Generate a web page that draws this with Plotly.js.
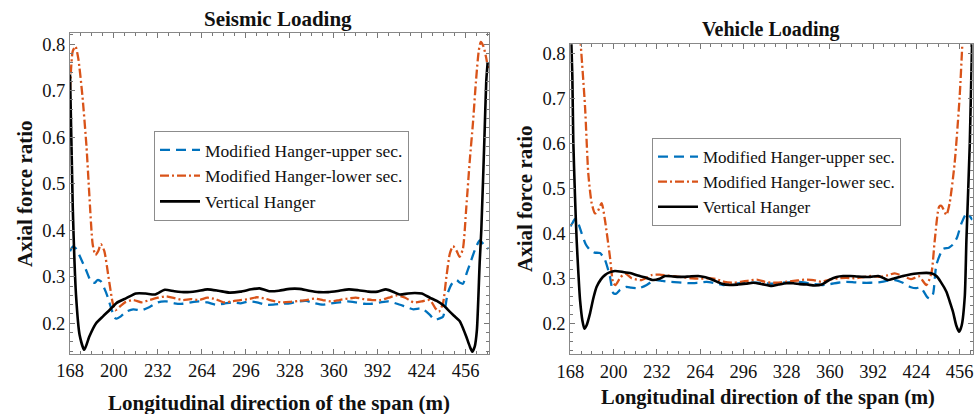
<!DOCTYPE html>
<html>
<head>
<meta charset="utf-8">
<script src="https://cdn.plot.ly/plotly-3.0.1.min.js"></script>
<style>
  html, body { margin: 0; padding: 0; background: #fff; }
  #chart { width: 974px; height: 414px; }
</style>
</head>
<body>
<div id="chart"></div>
<script>
// ---- Seismic loading: axial force ratio along the span ----
const seismicUpperX = [168, 170, 172.5, 175, 179.6, 183.3, 186, 188, 190.5, 193, 195.4, 198, 200.5, 202, 205, 209, 214, 220, 226, 232, 238, 244, 250, 256, 262, 268, 274, 280, 286, 292, 298, 304, 310, 316, 322, 328, 334, 340, 346, 352, 358, 364, 370, 376, 382, 388, 394, 400, 406, 412, 418, 424, 430, 433.5, 436.5, 439.5, 443, 446, 449.2, 452, 454, 457, 460, 463, 466.2, 469, 472.5];
const seismicUpperY = [0.355, 0.365, 0.36, 0.345, 0.315, 0.29, 0.287, 0.293, 0.29, 0.275, 0.257, 0.232, 0.212, 0.21, 0.215, 0.225, 0.23, 0.228, 0.235, 0.245, 0.247, 0.243, 0.242, 0.245, 0.247, 0.245, 0.24, 0.242, 0.245, 0.243, 0.247, 0.245, 0.24, 0.24, 0.242, 0.243, 0.247, 0.248, 0.243, 0.24, 0.243, 0.245, 0.247, 0.245, 0.242, 0.242, 0.245, 0.247, 0.242, 0.236, 0.23, 0.232, 0.218, 0.207, 0.21, 0.214, 0.265, 0.285, 0.293, 0.287, 0.285, 0.31, 0.335, 0.36, 0.378, 0.37, 0.36];

const seismicLowerX = [168, 170, 172, 174, 177, 180, 182, 184.5, 186.5, 188.5, 190.5, 193, 196, 199, 201, 204, 208, 214, 220, 226, 232, 238, 244, 250, 256, 262, 268, 274, 280, 286, 292, 298, 304, 310, 316, 322, 328, 334, 340, 346, 352, 358, 364, 370, 376, 382, 388, 394, 400, 406, 412, 418, 424, 430, 434, 436.5, 439.5, 442, 444.5, 446.8, 449.5, 451.6, 454, 456.5, 459, 461.3, 463.5, 465.5, 467, 469, 471, 472.5];
const seismicLowerY = [0.70, 0.785, 0.795, 0.77, 0.69, 0.58, 0.48, 0.37, 0.347, 0.355, 0.37, 0.355, 0.30, 0.245, 0.228, 0.235, 0.245, 0.25, 0.245, 0.25, 0.255, 0.258, 0.254, 0.25, 0.252, 0.25, 0.255, 0.252, 0.245, 0.247, 0.25, 0.252, 0.256, 0.253, 0.248, 0.245, 0.246, 0.248, 0.25, 0.253, 0.25, 0.247, 0.25, 0.253, 0.255, 0.252, 0.25, 0.25, 0.255, 0.26, 0.255, 0.245, 0.247, 0.25, 0.232, 0.225, 0.243, 0.30, 0.35, 0.366, 0.355, 0.343, 0.36, 0.45, 0.55, 0.63, 0.72, 0.785, 0.805, 0.795, 0.77, 0.745];

const seismicVertX = [168, 170, 172.4, 175, 178.4, 182, 187, 192, 197, 202, 209, 216, 223, 230, 237, 244, 252, 260, 268, 276, 284, 292, 300, 306, 313, 320, 328, 335, 342, 349, 356, 364, 371, 378, 385, 392, 398, 403, 408, 414, 419, 424, 430, 435, 440, 444.4, 448, 451.6, 454, 456.5, 458.8, 460.8, 462.6, 464.2, 466.2, 467.4, 469.8, 471, 472];
const seismicVertY = [0.735, 0.45, 0.26, 0.175, 0.143, 0.171, 0.2, 0.215, 0.229, 0.244, 0.254, 0.264, 0.264, 0.262, 0.272, 0.269, 0.267, 0.269, 0.273, 0.27, 0.266, 0.268, 0.273, 0.275, 0.269, 0.27, 0.274, 0.274, 0.27, 0.267, 0.267, 0.27, 0.273, 0.271, 0.268, 0.268, 0.273, 0.268, 0.262, 0.264, 0.265, 0.264, 0.255, 0.248, 0.238, 0.225, 0.215, 0.205, 0.19, 0.171, 0.152, 0.139, 0.15, 0.186, 0.33, 0.40, 0.61, 0.72, 0.76];

// ---- Vehicle loading: axial force ratio along the span ----
const vehicleUpperX = [168, 170, 171.5, 173.5, 176.4, 179.5, 182.6, 186, 190, 193.6, 197.3, 199.8, 202, 204.7, 209.7, 213, 217.1, 220, 224.5, 228, 231.9, 236, 241.7, 248, 256.5, 262, 268.8, 275, 281.1, 287, 293.4, 300, 306, 312, 318, 324, 330, 336, 342, 348, 354, 360, 366, 372, 378, 384, 390, 396, 402, 408, 414, 420, 424, 427, 429.5, 432, 434, 436.3, 438.8, 443.7, 448, 451.1, 454, 457.3, 461, 463, 465.4];
const vehicleUpperY = [0.415, 0.425, 0.432, 0.425, 0.40, 0.375, 0.363, 0.357, 0.356, 0.341, 0.304, 0.267, 0.266, 0.274, 0.281, 0.279, 0.278, 0.279, 0.285, 0.292, 0.296, 0.294, 0.292, 0.291, 0.289, 0.29, 0.292, 0.289, 0.285, 0.287, 0.289, 0.29, 0.29, 0.289, 0.288, 0.29, 0.291, 0.292, 0.29, 0.287, 0.285, 0.287, 0.29, 0.292, 0.291, 0.29, 0.29, 0.291, 0.294, 0.296, 0.29, 0.28, 0.278, 0.28, 0.27, 0.258, 0.255, 0.265, 0.33, 0.365, 0.368, 0.375, 0.39, 0.422, 0.444, 0.44, 0.43];

const vehicleLowerX = [168, 172, 175.2, 178.9, 181.3, 183.8, 186.3, 188.5, 191.2, 193.6, 197.3, 199.8, 201.5, 204.7, 208.4, 213.4, 220.8, 228.2, 234, 240, 246, 252, 258, 264, 270, 276, 282, 288, 294, 300, 306, 312, 318, 324, 330, 336, 342, 348, 354, 360, 366, 372, 378, 384, 390, 396, 402, 408, 414, 420, 426, 431.4, 435.1, 437.6, 440.8, 442.5, 446.2, 448.6, 452.3, 456, 458, 460, 463, 465.4];
const vehicleLowerY = [1.10, 0.95, 0.84, 0.681, 0.533, 0.467, 0.444, 0.45, 0.467, 0.43, 0.348, 0.289, 0.285, 0.30, 0.311, 0.30, 0.296, 0.307, 0.308, 0.306, 0.304, 0.302, 0.30, 0.299, 0.30, 0.298, 0.292, 0.29, 0.292, 0.295, 0.297, 0.292, 0.29, 0.291, 0.293, 0.295, 0.297, 0.296, 0.292, 0.297, 0.30, 0.301, 0.30, 0.302, 0.305, 0.303, 0.306, 0.311, 0.305, 0.298, 0.304, 0.285, 0.311, 0.385, 0.459, 0.461, 0.441, 0.467, 0.556, 0.704, 0.822, 0.95, 1.10, 1.20];

const vehicleVertX = [168, 169.5, 170.2, 171.5, 172.7, 174, 175.2, 177, 178.4, 180, 182.6, 185, 187.5, 190.5, 193.6, 197, 201, 207, 213, 218, 223, 229.3, 234, 238, 244, 250, 256, 262.6, 268, 273.7, 280, 286, 292, 298, 303.3, 310, 316.9, 322, 328, 333, 337.8, 343, 348.9, 354, 360, 365, 369.8, 375, 379.7, 385, 390, 395.7, 400, 403, 408, 414, 420, 426, 431.4, 435, 438.8, 442, 446.2, 449, 451.1, 453.5, 455.6, 457.5, 459.8, 461, 463.5, 465.4];
const vehicleVertY = [0.90, 0.75, 0.607, 0.48, 0.385, 0.31, 0.252, 0.205, 0.188, 0.195, 0.222, 0.255, 0.281, 0.297, 0.307, 0.313, 0.316, 0.314, 0.311, 0.306, 0.302, 0.296, 0.299, 0.305, 0.304, 0.303, 0.304, 0.305, 0.302, 0.296, 0.288, 0.285, 0.286, 0.288, 0.29, 0.287, 0.283, 0.286, 0.289, 0.289, 0.287, 0.286, 0.284, 0.286, 0.297, 0.303, 0.305, 0.305, 0.304, 0.303, 0.303, 0.305, 0.30, 0.296, 0.30, 0.305, 0.309, 0.311, 0.312, 0.311, 0.305, 0.292, 0.27, 0.245, 0.225, 0.195, 0.181, 0.195, 0.26, 0.385, 0.60, 0.85];

const seriesNames = ['Modified Hanger-upper sec.', 'Modified Hanger-lower sec.', 'Vertical Hanger'];
const xTicks = [168, 200, 232, 264, 296, 328, 360, 392, 424, 456];
const yTicks = [0.2, 0.3, 0.4, 0.5, 0.6, 0.7, 0.8];

const BLUE = '#0072BD', ORANGE = '#D95319', BLACK = '#000000';
const FONT = 'Liberation Serif';

function line(x, y, name, color, dash, width, xa, ya, legendId) {
  return {
    type: 'scatter', mode: 'lines', x: x, y: y, name: name,
    xaxis: xa, yaxis: ya, legend: legendId,
    line: { color: color, dash: dash, width: width, shape: 'spline', smoothing: 0.6 },
    hoverinfo: 'skip'
  };
}

const DASH = '10px,6px';
const DASHDOT = '9px,3px,2px,3px';

const traces = [
  line(seismicUpperX, seismicUpperY, seriesNames[0], BLUE, DASH, 2.3, 'x', 'y', 'legend'),
  line(seismicLowerX, seismicLowerY, seriesNames[1], ORANGE, DASHDOT, 2.3, 'x', 'y', 'legend'),
  line(seismicVertX, seismicVertY, seriesNames[2], BLACK, 'solid', 2.6, 'x', 'y', 'legend'),
  line(vehicleUpperX, vehicleUpperY, seriesNames[0], BLUE, DASH, 2.3, 'x2', 'y2', 'legend2'),
  line(vehicleLowerX, vehicleLowerY, seriesNames[1], ORANGE, DASHDOT, 2.3, 'x2', 'y2', 'legend2'),
  line(vehicleVertX, vehicleVertY, seriesNames[2], BLACK, 'solid', 2.6, 'x2', 'y2', 'legend2')
];

function xAxis(domain, range, anchor) {
  return {
    domain: domain, range: range, anchor: anchor,
    tickmode: 'array', tickvals: xTicks, ticktext: xTicks.map(String),
    ticks: 'inside', ticklen: 5, tickcolor: '#777', tickwidth: 1,
    minor: { ticks: 'inside', ticklen: 3, tickcolor: '#777', dtick: 8, tick0: 168 },
    showline: true, linecolor: '#888', linewidth: 1, mirror: 'ticks',
    showgrid: false, zeroline: false,
    tickfont: { family: FONT, size: 18.5, color: '#111' }
  };
}
function yAxis(domain, range, anchor) {
  return {
    domain: domain, range: range, anchor: anchor,
    tickmode: 'array', tickvals: yTicks, ticktext: yTicks.map(v => v.toFixed(1)),
    ticks: 'inside', ticklen: 5, tickcolor: '#777', tickwidth: 1,
    minor: { ticks: 'inside', ticklen: 3, tickcolor: '#777', dtick: 0.02, tick0: 0 },
    showline: true, linecolor: '#888', linewidth: 1, mirror: 'ticks',
    showgrid: false, zeroline: false,
    tickfont: { family: FONT, size: 18.5, color: '#111' }
  };
}

const W = 974, H = 414;
const px = v => v / W;
const py = v => (H - v) / H;

function legendBox(x, y, size) {
  return {
    x: x, y: y, xanchor: 'left', yanchor: 'top',
    bgcolor: '#fff', bordercolor: '#8c8c8c', borderwidth: 1,
    font: { family: FONT, size: size, color: '#111' },
    tracegroupgap: 0, itemwidth: 40
  };
}

function label(text, x, y, size, bold, angle) {
  return {
    text: bold ? '<b>' + text + '</b>' : text,
    xref: 'paper', yref: 'paper', x: x, y: y,
    xanchor: 'center', yanchor: 'middle', showarrow: false,
    textangle: angle || 0,
    font: { family: FONT, size: size, color: '#111' }
  };
}

const layout = {
  width: W, height: H,
  margin: { l: 0, r: 0, t: 0, b: 0 },
  paper_bgcolor: '#fff', plot_bgcolor: '#fff',
  font: { family: FONT },
  showlegend: true,
  xaxis: xAxis([px(70), px(489)], [168, 473], 'y'),
  yaxis: yAxis([py(354), py(33)], [0.134, 0.824], 'x'),
  xaxis2: xAxis([px(570.3), px(972.5)], [168, 465.5], 'y2'),
  yaxis2: yAxis([py(354.3), py(44.3)], [0.131, 0.82], 'x2'),
  legend: legendBox(px(154), py(131), 17.5),
  legend2: legendBox(px(652), py(138), 17),
  annotations: [
    label('Seismic Loading', px(278), py(19), 21, true),
    label('Vehicle Loading', px(771), py(30), 20, true),
    label('Axial force ratio', px(25), py(194), 21, true, -90),
    label('Axial force ratio', px(525), py(199), 21, true, -90),
    label('Longitudinal direction of the span (m)', px(279), py(403), 21, true),
    label('Longitudinal direction of the span (m)', px(768), py(397), 20.5, true)
  ]
};

Plotly.newPlot('chart', traces, layout, { displayModeBar: false, staticPlot: true });
</script>
</body>
</html>
